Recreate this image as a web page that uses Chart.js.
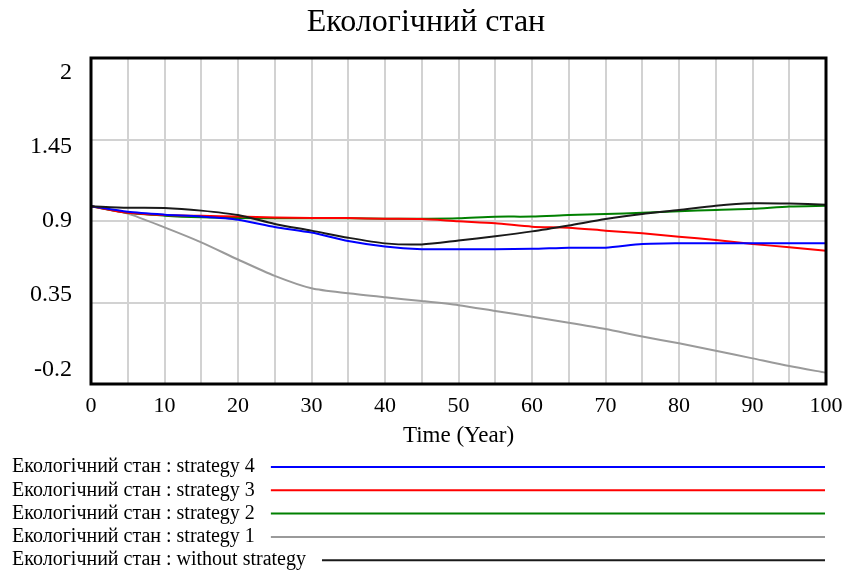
<!DOCTYPE html>
<html>
<head>
<meta charset="utf-8">
<script src="https://cdn.jsdelivr.net/npm/chart.js@4"></script>
<style>
  html, body { margin: 0; padding: 0; background: #fff; }
  #wrap { width: 845px; height: 572px; }
</style>
</head>
<body>
<div id="wrap"><canvas id="eco" width="845" height="572"></canvas></div>
<script>
const chartTitle = "Екологічний стан";
const xAxisTitle = "Time (Year)";
const time = [0, 5, 10, 15, 20, 25, 30, 35, 40, 45, 50, 55, 60, 65, 70, 75, 80, 85, 90, 95, 100];

const strategy4 = [1.0, 0.962, 0.943, 0.93, 0.909, 0.86, 0.822, 0.765, 0.728, 0.71, 0.71, 0.71, 0.712, 0.72, 0.72, 0.745, 0.75, 0.75, 0.75, 0.75, 0.75];
const strategy3 = [1.0, 0.955, 0.94, 0.935, 0.93, 0.924, 0.921, 0.92, 0.915, 0.913, 0.898, 0.885, 0.862, 0.855, 0.835, 0.817, 0.794, 0.772, 0.745, 0.723, 0.7];
const strategy2 = [1.0, 0.955, 0.936, 0.925, 0.92, 0.918, 0.918, 0.918, 0.915, 0.915, 0.918, 0.929, 0.93, 0.94, 0.947, 0.956, 0.965, 0.975, 0.982, 0.998, 1.003];
const strategy1 = [1.0, 0.95, 0.857, 0.756, 0.64, 0.53, 0.446, 0.412, 0.385, 0.36, 0.332, 0.293, 0.254, 0.214, 0.171, 0.12, 0.075, 0.025, -0.027, -0.079, -0.124];
const withoutStrategy = [1.0, 0.99, 0.988, 0.97, 0.94, 0.88, 0.835, 0.787, 0.749, 0.742, 0.768, 0.797, 0.83, 0.87, 0.913, 0.947, 0.974, 1.003, 1.02, 1.018, 1.01];

const yTickValues = [-0.2, 0.35, 0.9, 1.45, 2];
const yTickLabels = ["-0.2", "0.35", "0.9", "1.45", "2"];

const seriesNames = [
  "Екологічний стан : strategy 4",
  "Екологічний стан : strategy 3",
  "Екологічний стан : strategy 2",
  "Екологічний стан : strategy 1",
  "Екологічний стан : without strategy",
];

const SERIF = "'Liberation Serif', 'Times New Roman', serif";

const toPoints = (values) => values.map((v, i) => ({ x: time[i], y: v }));

const line = (label, values, color) => ({
  label,
  data: toPoints(values),
  borderColor: color,
  borderWidth: 2,
  pointRadius: 0,
  tension: 0.25,
  fill: false,
});

// without strategy goes first so it ends up on top of the others
const datasets = [
  line(seriesNames[4], withoutStrategy, "#1a1a1a"),
  line(seriesNames[0], strategy4, "#0000ff"),
  line(seriesNames[1], strategy3, "#ff0000"),
  line(seriesNames[2], strategy2, "#008000"),
  line(seriesNames[3], strategy1, "#9a9a9a"),
];

// legend rows, top to bottom
const legendOrder = [1, 2, 3, 4, 0];

const decor = {
  id: "decor",
  afterDatasetsDraw(chart) {
    const { ctx, chartArea: a, scales } = chart;
    ctx.save();

    // heavy frame around the plot
    ctx.strokeStyle = "#000";
    ctx.lineWidth = 3;
    ctx.strokeRect(a.left, a.top, a.right - a.left, a.bottom - a.top);

    // y labels, pulled a little toward the middle like the original tool does
    const mid = (a.top + a.bottom) / 2;
    ctx.fillStyle = "#000";
    ctx.font = "24px " + SERIF;
    ctx.textAlign = "right";
    ctx.textBaseline = "middle";
    yTickValues.forEach((v, i) => {
      const py = scales.y.getPixelForValue(v);
      ctx.fillText(yTickLabels[i], 72, py + (mid - py) * 0.09);
    });

    // title and axis title
    ctx.textAlign = "center";
    ctx.font = "32px " + SERIF;
    ctx.fillText(chartTitle, 426, 23);
    ctx.font = "23px " + SERIF;
    ctx.fillText(xAxisTitle, (a.left + a.right) / 2, 436);

    // legend: name followed by a line running to the plot's right edge
    ctx.textAlign = "left";
    ctx.font = "20px " + SERIF;
    legendOrder.forEach((di, row) => {
      const ds = chart.data.datasets[di];
      const y = 467 + row * 23.3;
      ctx.fillStyle = "#000";
      ctx.fillText(ds.label, 12, y);
      const start = 12 + ctx.measureText(ds.label).width + 16;
      ctx.strokeStyle = ds.borderColor;
      ctx.lineWidth = 2;
      ctx.beginPath();
      ctx.moveTo(start, y);
      ctx.lineTo(a.right - 1, y);
      ctx.stroke();
    });

    ctx.restore();
  },
};

new Chart(document.getElementById("eco"), {
  type: "line",
  data: { datasets },
  plugins: [decor],
  options: {
    responsive: false,
    animation: false,
    layout: { padding: { top: 58, right: 19, left: 0, bottom: 132 } },
    plugins: {
      legend: { display: false },
      tooltip: { enabled: false },
      title: { display: false },
    },
    scales: {
      x: {
        type: "linear",
        min: 0,
        max: 100,
        afterBuildTicks: (scale) => {
          const ticks = [];
          for (let t = 0; t <= 100; t += 5) ticks.push({ value: t });
          scale.ticks = ticks;
        },
        afterFit: (scale) => {
          scale.height = 56;
          // let the end labels hang past the plot edges
          scale.paddingLeft = 0;
          scale.paddingRight = 0;
        },
        grid: { color: "#d2d2d2", lineWidth: 2, drawTicks: false },
        border: { display: false },
        ticks: {
          padding: 9,
          maxRotation: 0,
          autoSkip: false,
          color: "#000",
          font: { family: SERIF, size: 22 },
          callback: (v) => (v % 10 === 0 ? String(v) : ""),
        },
      },
      y: {
        type: "linear",
        min: -0.2,
        max: 2,
        afterBuildTicks: (scale) => {
          scale.ticks = yTickValues.map((v) => ({ value: v }));
        },
        afterFit: (scale) => { scale.width = 91; },
        grid: { color: "#d2d2d2", lineWidth: 2, drawTicks: false },
        border: { display: false },
        ticks: { display: false },
      },
    },
  },
});
</script>
</body>
</html>
